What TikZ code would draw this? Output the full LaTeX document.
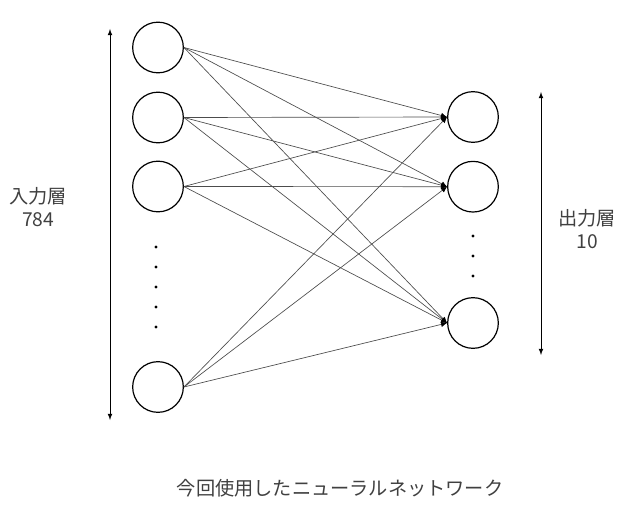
\documentclass[tikz,border=0pt]{standalone}
\usepackage{fontspec}
\setmainfont{Noto Sans CJK JP}
\usepackage{tikz}
\usetikzlibrary{positioning, arrows.meta}

\begin{document}
\begin{tikzpicture}[x=0.75pt, y=-0.75pt, font=\fontsize{14.4}{17.5}\selectfont, >=latex]
        % 色の定義
        \colorlet{mytext}{black!75}
        \colorlet{myedge}{black!70}

        % 共通スタイル
        \tikzset{
            neuron/.style={circle, draw, line width=0.9pt, minimum size=38pt, inner sep=0pt},
            edge/.style={-{Latex[length=4.5pt, width=4pt, color=black]}, myedge, line width=0.5pt},
            span/.style={<->, line width=0.6pt},
            dot/.style={circle, fill, inner sep=0pt, minimum size=2.6pt},
            label/.style={text=mytext, align=center}
        }

        \useasboundingbox (0,0) rectangle (643,510);

        % --- 入力層 ---
        \node[neuron] (in1) at (158,47.5) {};
        \node[neuron] (in2) at (158,117.5) {};
        \node[neuron] (in3) at (158,186.5) {};
        \node[neuron] (in4) at (158,387) {};
        \foreach \y [count=\i] in {247, 267, 287, 307, 327}
            \node[dot] (idot\i) at (156,\y) {};

        % --- 出力層 ---
        \node[neuron] (out1) at (473,117) {};
        \node[neuron] (out2) at (473,186.7) {};
        \node[neuron] (out3) at (473,323) {};
        \foreach \y [count=\i] in {236, 256, 276}
            \node[dot] (odot\i) at (473,\y) {};

        % 全結合
        \foreach \i in {1,...,4}
            \foreach \j in {1,...,3}
                \draw[edge] (in\i.east) -- (out\j.west);

        % 層の幅を示す矢印
        \coordinate (itop) at (110,29);
        \coordinate (ibot) at (110,420);
        \draw[span] (itop) -- (ibot);
        \coordinate (otop) at (541,92);
        \coordinate (obot) at (541,355);
        \draw[span] (otop) -- (obot);

        % ラベル
        \node[label] (inlabel) at (38,207) {入力層\\784};
        \node[label] (outlabel) at (587,229) {出力層\\10};
        \node[label] (caption) at (340,488) {今回使用したニューラルネットワーク};
\end{tikzpicture}
\end{document}
